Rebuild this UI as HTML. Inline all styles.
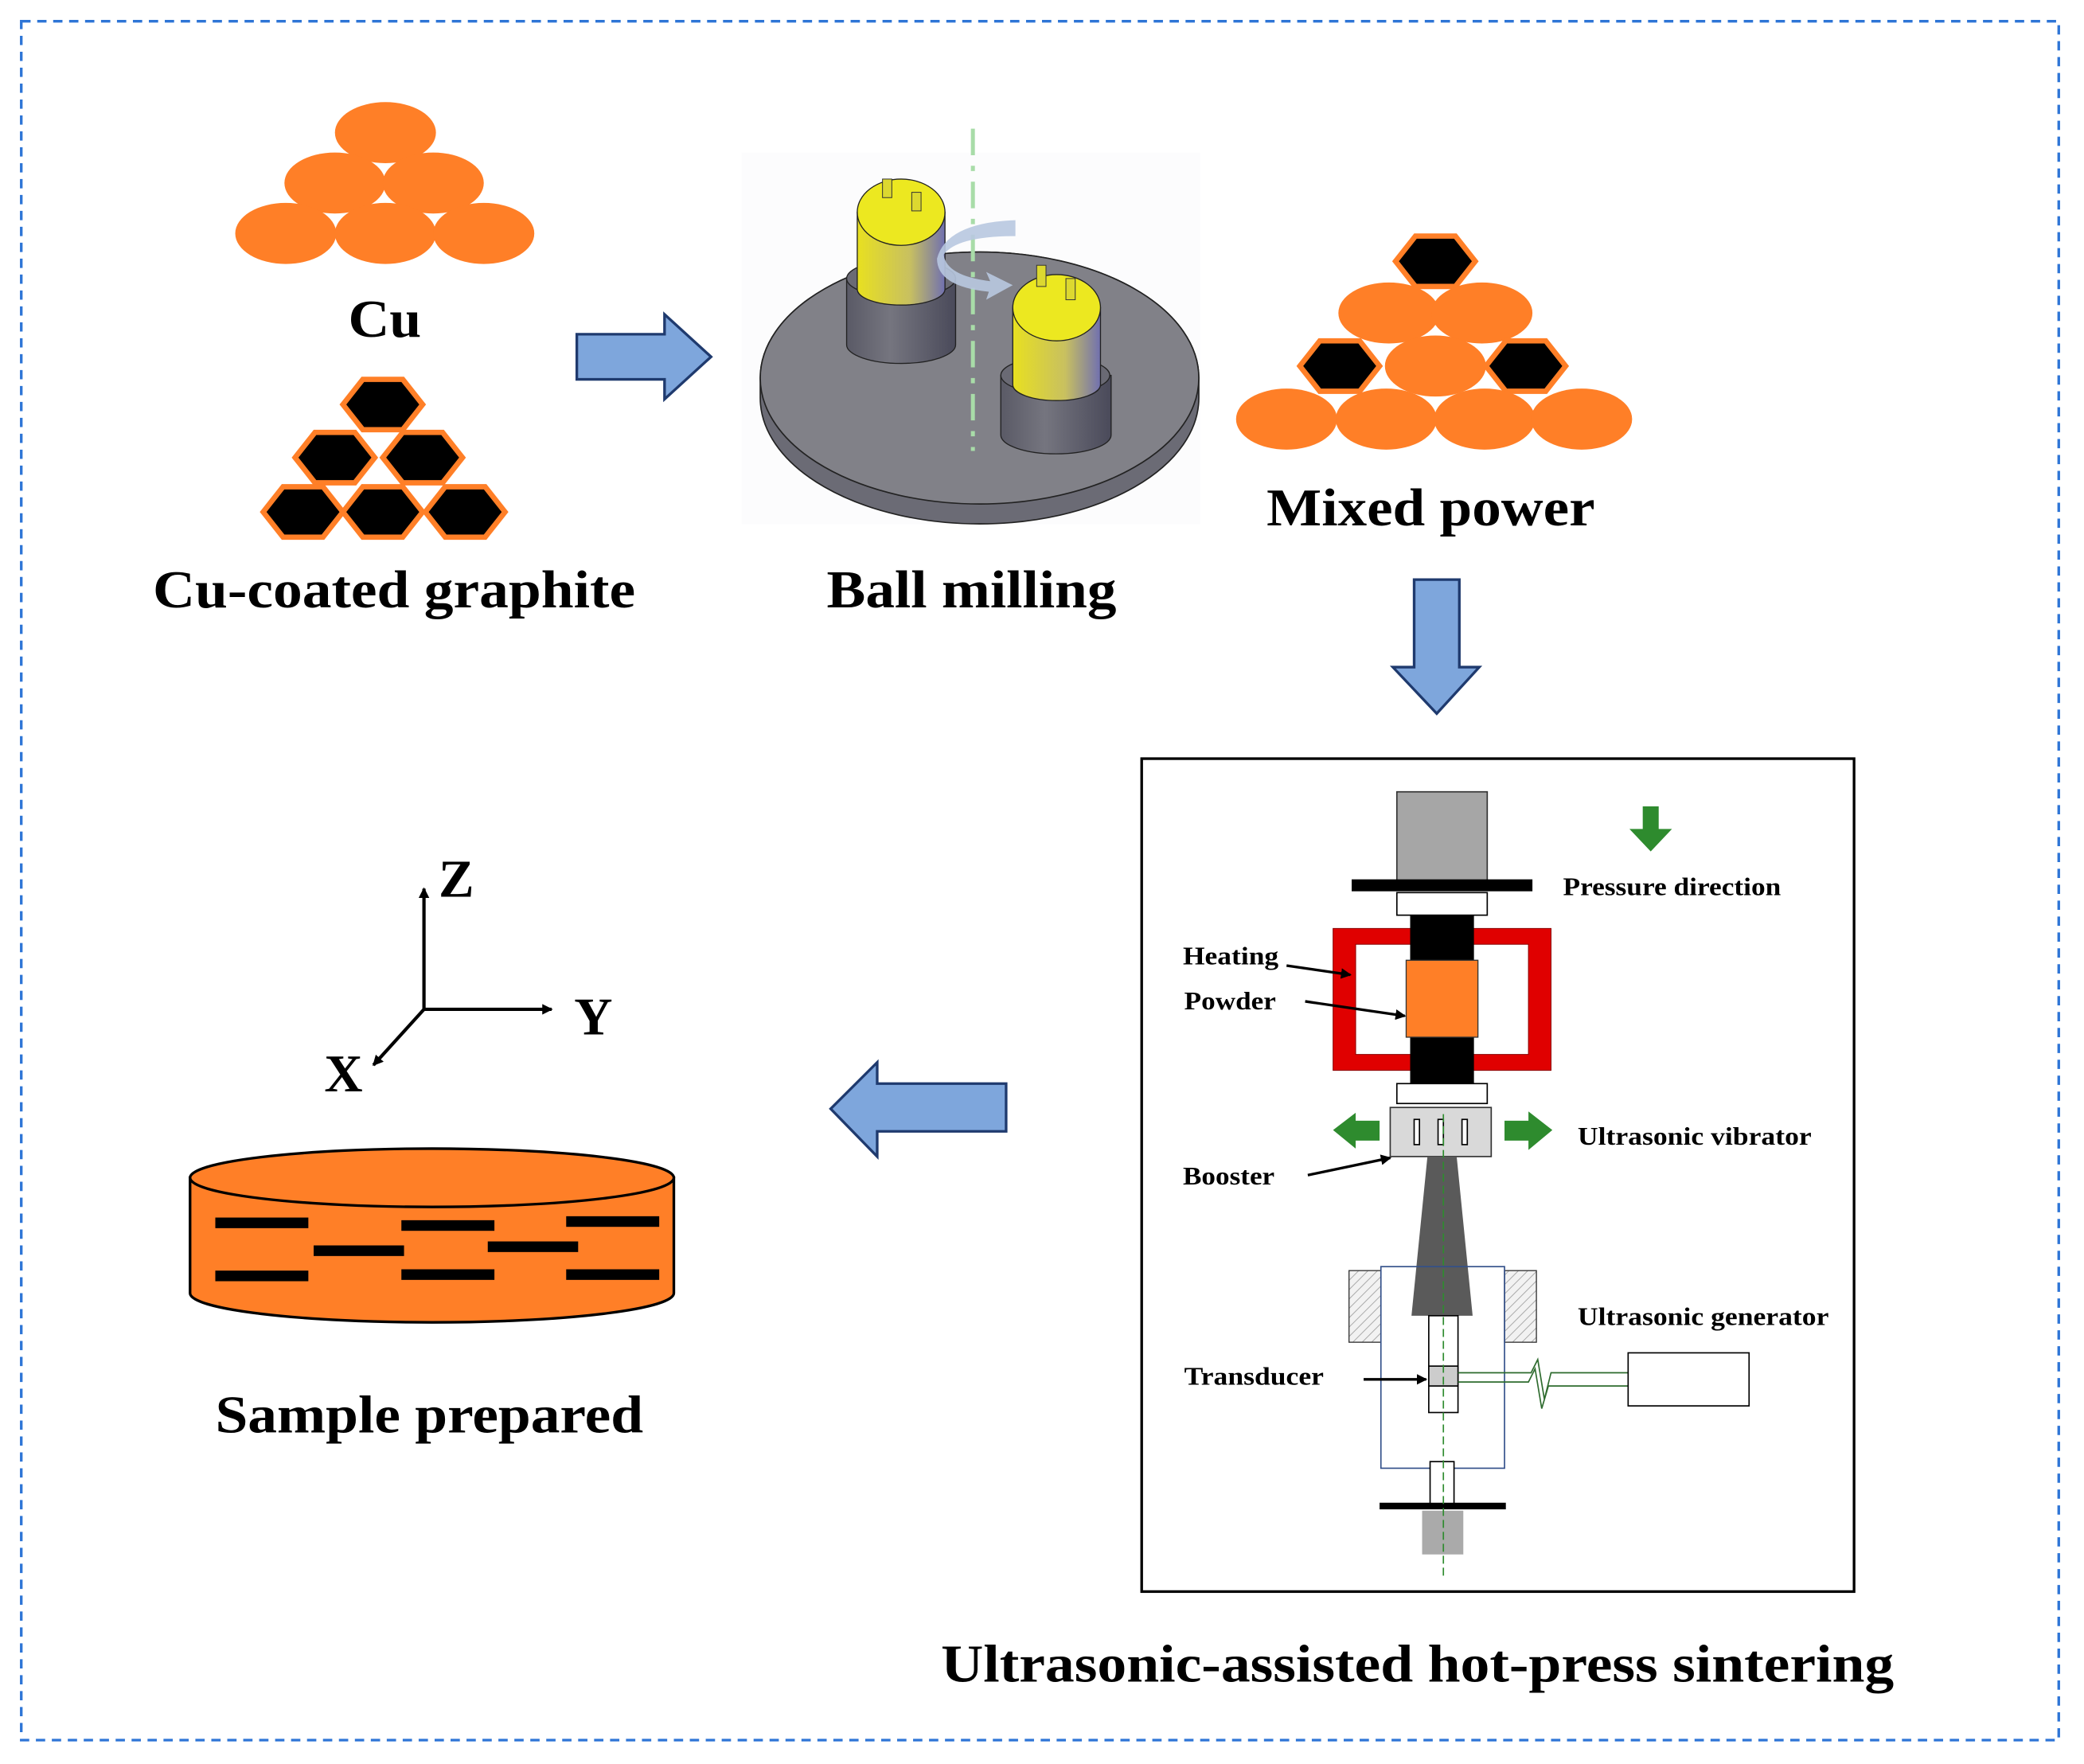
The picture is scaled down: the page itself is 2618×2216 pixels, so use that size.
<!DOCTYPE html>
<html><head><meta charset="utf-8"><style>html,body{margin:0;padding:0;background:#fff}svg{display:block}text{font-family:"Liberation Serif",serif;font-weight:bold}</style></head><body>
<svg width="2618" height="2216" viewBox="0 0 1568 1330" preserveAspectRatio="none" xmlns="http://www.w3.org/2000/svg">
<defs>
<linearGradient id="yl" x1="0" x2="1"><stop offset="0" stop-color="#e8e020"/><stop offset="0.6" stop-color="#c8c060"/><stop offset="1" stop-color="#7070b0"/></linearGradient>
<linearGradient id="gr" x1="0" x2="1"><stop offset="0" stop-color="#5a5a66"/><stop offset="0.4" stop-color="#75757f"/><stop offset="1" stop-color="#4a4a5a"/></linearGradient>
<pattern id="hatch" width="5" height="5" patternUnits="userSpaceOnUse" patternTransform="rotate(45)"><rect width="5" height="5" fill="#f2f2f2"/><line x1="0" y1="0" x2="0" y2="5" stroke="#aaa" stroke-width="1.2"/></pattern>
<g id="hex"><polygon points="-30,0 -15,-19 15,-19 30,0 15,19 -15,19" fill="#000" stroke="#ff7f27" stroke-width="4"/></g>
<marker id="ah" markerWidth="8" markerHeight="8" refX="7" refY="4" orient="auto" markerUnits="userSpaceOnUse"><path d="M0,0 L8,4 L0,8 z" fill="#000"/></marker>
</defs>
<rect x="16" y="16" width="1533" height="1296" fill="none" stroke="#2e75d6" stroke-width="2" stroke-dasharray="7,5"/>

<g fill="#ff7f27">
<ellipse cx="290" cy="100" rx="38" ry="23"/><ellipse cx="252" cy="138" rx="38" ry="23"/><ellipse cx="326" cy="138" rx="38" ry="23"/>
<ellipse cx="215" cy="176" rx="38" ry="23"/><ellipse cx="290" cy="176" rx="38" ry="23"/><ellipse cx="364" cy="176" rx="38" ry="23"/>
</g>
<text x="262" y="254" font-size="40" textLength="55" lengthAdjust="spacingAndGlyphs">Cu</text>
<use href="#hex" x="288" y="305"/><use href="#hex" x="252" y="345"/><use href="#hex" x="318" y="345"/>
<use href="#hex" x="228" y="386"/><use href="#hex" x="288" y="386"/><use href="#hex" x="350" y="386"/>
<text x="115" y="458" font-size="40" textLength="363" lengthAdjust="spacingAndGlyphs">Cu-coated graphite</text>

<polygon points="434,252 500,252 500,237 535,269 500,301 500,286 434,286" fill="#7ea6dc" stroke="#1f3a6e" stroke-width="2"/>

<rect x="558" y="115" width="345" height="280" fill="#fcfcfd"/>
<path d="M572,285 A165,95 0 0 1 902,285 L902,300 A165,95 0 0 1 572,300 Z" fill="#6b6b75" stroke="#222" stroke-width="1"/>
<ellipse cx="737" cy="285" rx="165" ry="95" fill="#818188" stroke="#222" stroke-width="1"/>
<path d="M637,210 L637,260 A41,14 0 0 0 719,260 L719,210 Z" fill="url(#gr)" stroke="#222" stroke-width="0.8"/>
<ellipse cx="678" cy="210" rx="41" ry="14" fill="#6a6a74" stroke="#222" stroke-width="0.8"/>
<path d="M645,160 L645,218 A33,12 0 0 0 711,218 L711,160 Z" fill="url(#yl)" stroke="#222" stroke-width="0.8"/>
<ellipse cx="678" cy="160" rx="33" ry="25" fill="#ece820" stroke="#222" stroke-width="0.8"/>
<rect x="664" y="135" width="7" height="14" fill="#dcd830" stroke="#333" stroke-width="0.6"/>
<rect x="686" y="145" width="7" height="14" fill="#dcd830" stroke="#333" stroke-width="0.6"/>
<path d="M753,283 L753,328 A41,14 0 0 0 836,328 L836,283 Z" fill="url(#gr)" stroke="#222" stroke-width="0.8"/>
<ellipse cx="794" cy="283" rx="41" ry="14" fill="#6a6a74" stroke="#222" stroke-width="0.8"/>
<path d="M762,232 L762,290 A33,12 0 0 0 828,290 L828,232 Z" fill="url(#yl)" stroke="#222" stroke-width="0.8"/>
<ellipse cx="795" cy="232" rx="33" ry="25" fill="#ece820" stroke="#222" stroke-width="0.8"/>
<rect x="780" y="200" width="7" height="16" fill="#dcd830" stroke="#333" stroke-width="0.6"/>
<rect x="802" y="210" width="7" height="16" fill="#dcd830" stroke="#333" stroke-width="0.6"/>
<line x1="732" y1="97" x2="732" y2="340" stroke="#a8dca8" stroke-width="3" stroke-dasharray="20,8,4,8"/>
<path d="M764,178 Q720,178 710,192 Q712,208 745,212 L742,205 L762,215 L742,226 L744,220 Q705,216 705,195 Q712,168 764,166 Z" fill="#b8c8e0" opacity="0.9"/>
<text x="622" y="458" font-size="40" textLength="218" lengthAdjust="spacingAndGlyphs">Ball milling</text>

<use href="#hex" x="1080" y="197"/>
<g fill="#ff7f27"><ellipse cx="1045" cy="236" rx="38" ry="23"/><ellipse cx="1115" cy="236" rx="38" ry="23"/><ellipse cx="1080" cy="276" rx="38" ry="23"/></g>
<use href="#hex" x="1008" y="276"/><use href="#hex" x="1148" y="276"/>
<g fill="#ff7f27"><ellipse cx="968" cy="316" rx="38" ry="23"/><ellipse cx="1043" cy="316" rx="38" ry="23"/><ellipse cx="1117" cy="316" rx="38" ry="23"/><ellipse cx="1190" cy="316" rx="38" ry="23"/></g>
<text x="953" y="396" font-size="40" textLength="247" lengthAdjust="spacingAndGlyphs">Mixed power</text>

<polygon points="1064,437 1098,437 1098,503 1113,503 1081,538 1048,503 1064,503" fill="#7ea6dc" stroke="#1f3a6e" stroke-width="2"/>

<rect x="859" y="572" width="536" height="628" fill="#fff" stroke="#000" stroke-width="2"/>
<rect x="1051" y="597" width="68" height="68" fill="#a6a6a6" stroke="#333" stroke-width="1"/>
<rect x="1017" y="663" width="136" height="9" fill="#000"/>
<rect x="1051" y="673" width="68" height="17" fill="#fff" stroke="#000" stroke-width="1"/>
<path d="M1003,700 H1167 V807 H1003 Z M1020,712 V795 H1150 V712 Z" fill="#e00000" fill-rule="evenodd" stroke="#800" stroke-width="0.6"/>
<rect x="1061" y="690" width="48" height="127" fill="#000"/>
<rect x="1058" y="724" width="54" height="58" fill="#ff7f27" stroke="#333" stroke-width="0.8"/>
<rect x="1051" y="817" width="68" height="15" fill="#fff" stroke="#000" stroke-width="1"/>
<rect x="1046" y="835" width="76" height="37" fill="#d9d9d9" stroke="#333" stroke-width="1"/>
<rect x="1064" y="844" width="4" height="19" fill="#fff" stroke="#000" stroke-width="1"/>
<rect x="1082" y="844" width="4" height="19" fill="#fff" stroke="#000" stroke-width="1"/>
<rect x="1100" y="844" width="4" height="19" fill="#fff" stroke="#000" stroke-width="1"/>
<polygon points="1038,845 1020,845 1020,839 1003,852 1020,866 1020,860 1038,860" fill="#2e8b2e"/>
<polygon points="1132,845 1150,845 1150,838 1168,852 1150,867 1150,860 1132,860" fill="#2e8b2e"/>
<polygon points="1236,608 1248,608 1248,625 1258,625 1242,642 1226,625 1236,625" fill="#2e8b2e"/>
<polygon points="1074,872 1096,872 1108,992 1062,992" fill="#5a5a5a"/>
<rect x="1015" y="958" width="24" height="54" fill="url(#hatch)" stroke="#333" stroke-width="0.8"/>
<rect x="1132" y="958" width="24" height="54" fill="url(#hatch)" stroke="#333" stroke-width="0.8"/>
<rect x="1039" y="955" width="93" height="152" fill="none" stroke="#33508a" stroke-width="1"/>
<rect x="1075" y="992" width="22" height="73" fill="#fff" stroke="#000" stroke-width="1"/>
<rect x="1075" y="1030" width="22" height="15" fill="#ccc" stroke="#000" stroke-width="1"/>
<path d="M1097,1035 H1152 L1157,1025 L1162,1055 L1167,1035 H1225 M1097,1042 H1150 L1155,1032 L1160,1062 L1165,1045 H1225" fill="none" stroke="#2e6b2e" stroke-width="1"/>
<rect x="1225" y="1020" width="91" height="40" fill="#fff" stroke="#000" stroke-width="1"/>
<rect x="1076" y="1102" width="18" height="33" fill="#fff" stroke="#000" stroke-width="1"/>
<rect x="1038" y="1133" width="95" height="5" fill="#000"/>
<rect x="1070" y="1139" width="31" height="33" fill="#aaa"/>
<line x1="1086" y1="840" x2="1086" y2="1190" stroke="#2e8b2e" stroke-width="1" stroke-dasharray="6,3"/>
<g font-size="19">
<text x="1176" y="675" textLength="164" lengthAdjust="spacingAndGlyphs">Pressure direction</text>
<text x="890" y="727" textLength="72" lengthAdjust="spacingAndGlyphs">Heating</text>
<text x="891" y="761" textLength="69" lengthAdjust="spacingAndGlyphs">Powder</text>
<text x="1187" y="863" textLength="176" lengthAdjust="spacingAndGlyphs">Ultrasonic vibrator</text>
<text x="890" y="893" textLength="69" lengthAdjust="spacingAndGlyphs">Booster</text>
<text x="1187" y="999" textLength="189" lengthAdjust="spacingAndGlyphs">Ultrasonic generator</text>
<text x="891" y="1044" textLength="105" lengthAdjust="spacingAndGlyphs">Transducer</text>
</g>
<g stroke="#000" stroke-width="2" fill="none" marker-end="url(#ah)">
<line x1="968" y1="728" x2="1016" y2="735"/>
<line x1="982" y1="755" x2="1057" y2="766"/>
<line x1="984" y1="886" x2="1046" y2="873"/>
<line x1="1026" y1="1040" x2="1073" y2="1040"/>
</g>
<text x="708" y="1268" font-size="40" textLength="717" lengthAdjust="spacingAndGlyphs">Ultrasonic-assisted hot-press sintering</text>

<polygon points="757,817 660,817 660,801 625,836 660,872 660,853 757,853" fill="#7ea6dc" stroke="#1f3a6e" stroke-width="2"/>

<g stroke="#000" stroke-width="2.5" marker-end="url(#ah)">
<line x1="319" y1="761" x2="319" y2="670"/>
<line x1="319" y1="761" x2="415" y2="761"/>
<line x1="319" y1="761" x2="281" y2="803"/>
</g>
<text x="330" y="676" font-size="40">Z</text>
<text x="432" y="780" font-size="40">Y</text>
<text x="244" y="823" font-size="40">X</text>

<path d="M143,888 L143,975 A182,22 0 0 0 507,975 L507,888 Z" fill="#ff7f27" stroke="#000" stroke-width="2"/>
<ellipse cx="325" cy="888" rx="182" ry="22" fill="#ff7f27" stroke="#000" stroke-width="2"/>
<g fill="#000">
<rect x="162" y="918" width="70" height="8"/><rect x="302" y="920" width="70" height="8"/><rect x="426" y="917" width="70" height="8"/>
<rect x="236" y="939" width="68" height="8"/><rect x="367" y="936" width="68" height="8"/>
<rect x="162" y="958" width="70" height="8"/><rect x="302" y="957" width="70" height="8"/><rect x="426" y="957" width="70" height="8"/>
</g>
<text x="162" y="1080" font-size="40" textLength="322" lengthAdjust="spacingAndGlyphs">Sample prepared</text>
</svg>
</body></html>
